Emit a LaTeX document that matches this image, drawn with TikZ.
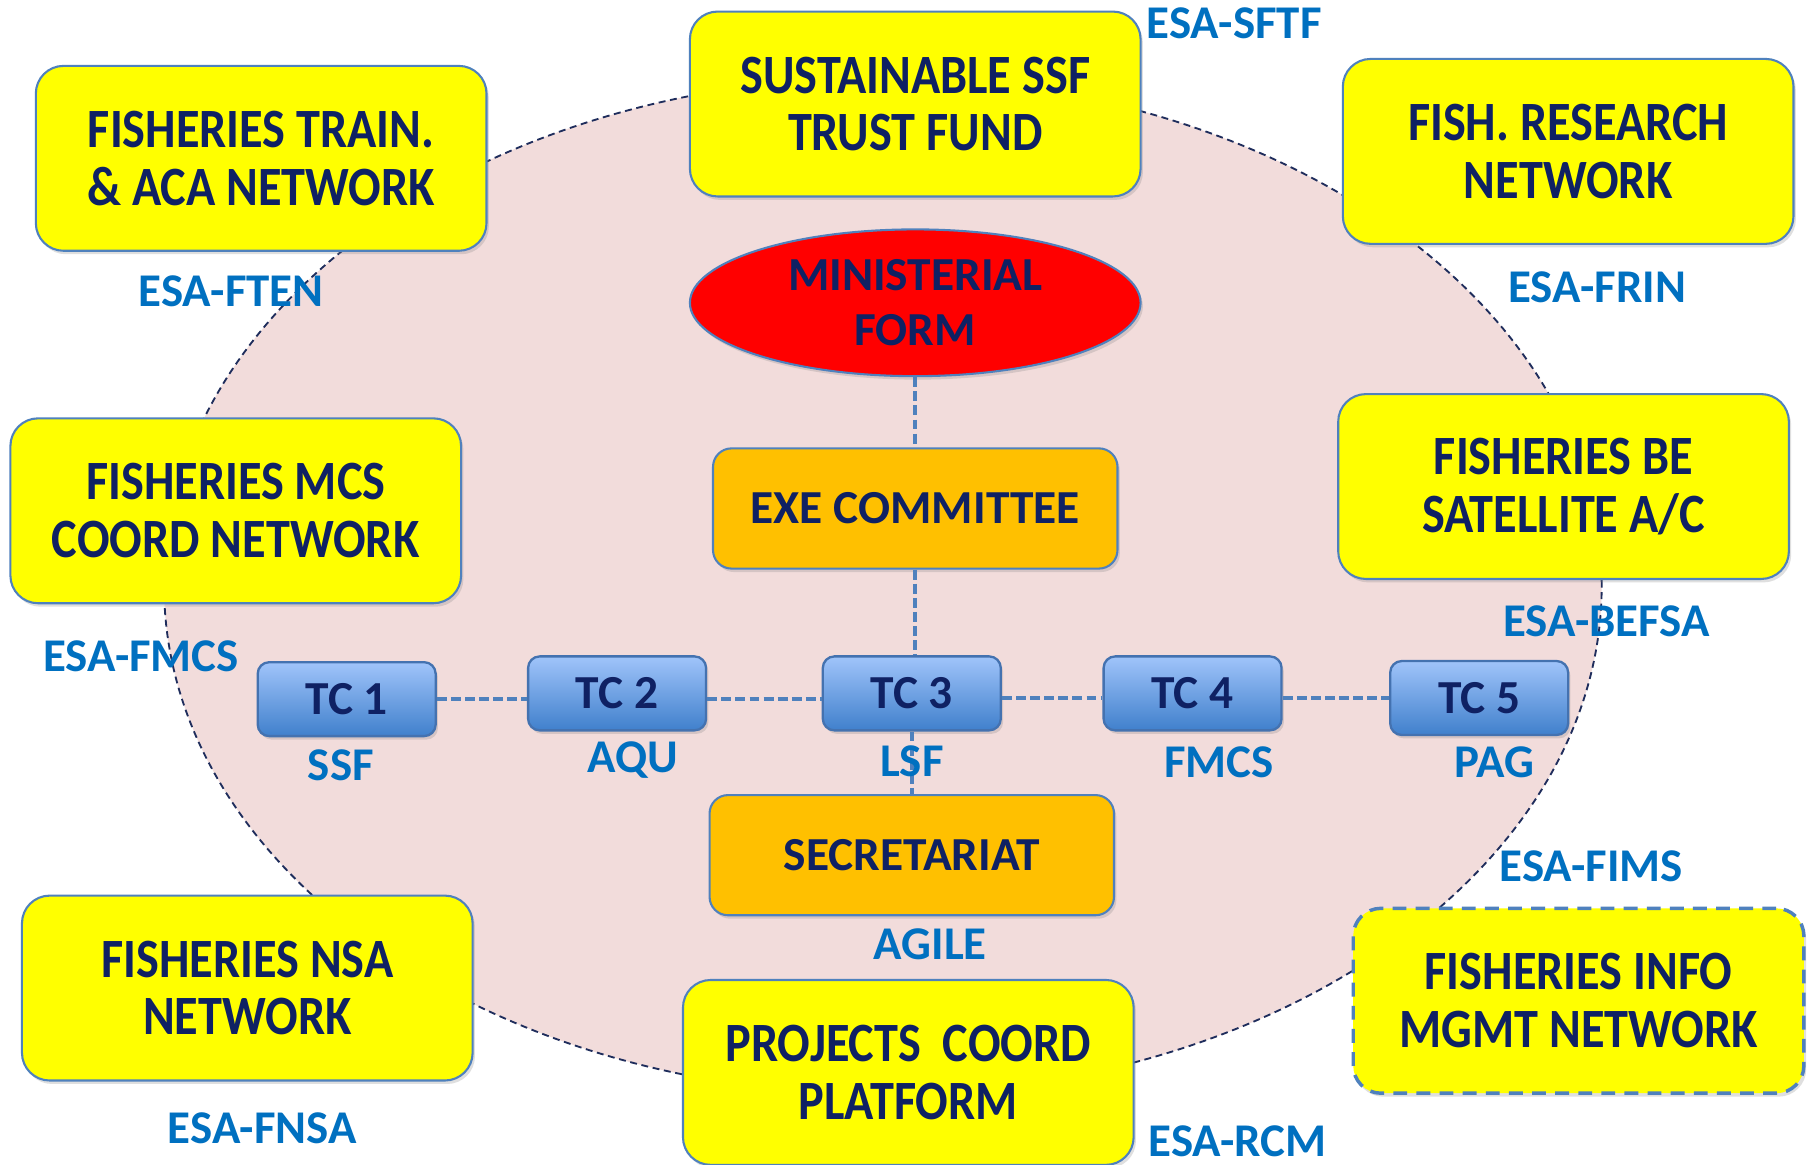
\documentclass[tikz,border=0pt]{standalone}
\usepackage{fontspec}
\setmainfont{Carlito}
\newfontfamily\condfont{Carlito}[FakeStretch=0.87]
\usetikzlibrary{shapes.geometric,shadows}
\definecolor{navy}{HTML}{0F2163}
\definecolor{esablue}{HTML}{0070C0}
\definecolor{boxborder}{HTML}{4F81BD}
\definecolor{pinkbg}{HTML}{F2DCDB}
\definecolor{ellborder}{HTML}{1F2D5C}
\definecolor{orangebox}{HTML}{FFC000}
\definecolor{yellowbox}{HTML}{FFFF00}
\definecolor{tctop}{HTML}{A0C4FA}
\definecolor{tcbot}{HTML}{4080CC}
\definecolor{tcborder}{HTML}{4472B0}
\definecolor{linkblue}{HTML}{4F81BD}
\begin{document}
\begin{tikzpicture}[x=0.5pt,y=-0.5pt,
  ybox/.style={rectangle, rounded corners=12pt, draw=boxborder, line width=0.9pt,
    fill=yellowbox, minimum width=195pt, minimum height=80pt, align=center, text=navy,
    font=\condfont\bfseries\fontsize{24}{25}\selectfont,
    drop shadow={opacity=0.25, shadow xshift=1pt, shadow yshift=-1.5pt}},
  dbox/.style={ybox, line width=1.5pt, dash pattern=on 6pt off 4pt},
  obox/.style={rectangle, rounded corners=8pt, draw=boxborder, line width=0.9pt,
    fill=orangebox, minimum width=175pt, minimum height=52pt, text=navy,
    font=\bfseries\fontsize{20.5}{24}\selectfont,
    drop shadow={opacity=0.25, shadow xshift=1pt, shadow yshift=-1.5pt}},
  tcbox/.style={rectangle, rounded corners=5pt, draw=tcborder, line width=1pt,
    top color=tctop, bottom color=tcbot, minimum width=77pt, minimum height=32pt,
    text=navy, font=\bfseries\fontsize{20.5}{24}\selectfont,
    drop shadow={opacity=0.25, shadow xshift=1pt, shadow yshift=-1.5pt}},
  mbox/.style={ellipse, draw=boxborder, line width=0.9pt, fill=red, inner sep=0pt,
    minimum width=195pt, minimum height=63.5pt, align=center, text=navy,
    font=\bfseries\fontsize{20.5}{24}\selectfont,
    drop shadow={opacity=0.25, shadow xshift=1pt, shadow yshift=-1.5pt}},
  lbl/.style={text=esablue, inner sep=0pt, font=\bfseries\fontsize{20.3}{24}\selectfont},
  link/.style={draw=linkblue, line width=1.8pt, dash pattern=on 4.3pt off 1.8pt}
]
\useasboundingbox (0,0) rectangle (1568,1008);
\fill[white] (0,0) rectangle (1568,1008);
% background ellipse
\draw[fill=pinkbg, draw=ellborder, line width=0.8pt, dash pattern=on 3pt off 2pt]
  (764,507) ellipse [x radius=311pt, y radius=220pt];

% centre nodes
\node[mbox] (min) at (792,262) {MINISTERIAL\\FORM};
\node[obox] (exe) at (792,440) {EXE COMMITTEE};
\node[obox] (sec) at (789,740) {SECRETARIAT};
\node[tcbox] (tc1) at (300,605) {TC 1};
\node[tcbox] (tc2) at (534,600) {TC 2};
\node[tcbox] (tc3) at (789,600) {TC 3};
\node[tcbox] (tc4) at (1032,600) {TC 4};
\node[tcbox] (tc5) at (1280,604) {TC 5};

% connectors
\draw[link] (min.south) -- (exe.north);
\draw[link] (exe.south) -- (exe.south |- tc3.north);
\draw[link] (tc3.south) -- (tc3.south |- sec.north);
\draw[link] (tc1.east) -- (tc1.east -| tc2.west);
\draw[link] ([yshift=-2.5pt]tc2.east) -- ([yshift=-2.5pt]tc2.east -| tc3.west);
\draw[link] ([yshift=-2pt]tc3.east) -- ([yshift=-2pt]tc3.east -| tc4.west);
\draw[link] ([yshift=-2pt]tc4.east) -- ([yshift=-2pt]tc4.east -| tc5.west);

% outer boxes
\node[ybox] (ften) at (226,137) {FISHERIES TRAIN.\\\& ACA NETWORK};
\node[ybox] (sftf) at (792,90) {SUSTAINABLE SSF\\TRUST FUND};
\node[ybox] (frin) at (1357,131) {FISH. RESEARCH\\NETWORK};
\node[ybox] (fmcs) at (204,442) {FISHERIES MCS\\COORD NETWORK};
\node[ybox] (befsa) at (1353,421) {FISHERIES BE\\SATELLITE A/C};
\node[ybox] (fnsa) at (214,855) {FISHERIES NSA\\NETWORK};
\node[ybox] (rcm) at (786,928) {PROJECTS\ \ COORD\\PLATFORM};
\node[dbox] (fims) at (1366,866) {FISHERIES INFO\\MGMT NETWORK};

% labels
\node[lbl] (lsftf) at (1068,20) {ESA-SFTF};
\node[lbl] (lften) at (200,252) {ESA-FTEN};
\node[lbl] (lfrin) at (1382,249) {ESA-FRIN};
\node[lbl] (lfmcs) at (122,568) {ESA-FMCS};
\node[lbl] (lbefsa) at (1390,538) {ESA-BEFSA};
\node[lbl] (lfims) at (1377,750) {ESA-FIMS};
\node[lbl] (lfnsa) at (227,976) {ESA-FNSA};
\node[lbl] (lrcm) at (1071,988) {ESA-RCM};
\node[lbl] (lagile) at (805,817) {AGILE};
\node[lbl] (lssf) at (295,662) {SSF};
\node[lbl] (laqu) at (548,658) {AQU};
\node[lbl] (llsf) at (789,659) {LSF};
\node[lbl] (lfmcs2) at (1055,660) {FMCS};
\node[lbl] (lpag) at (1293,660) {PAG};
\end{tikzpicture}
\end{document}
